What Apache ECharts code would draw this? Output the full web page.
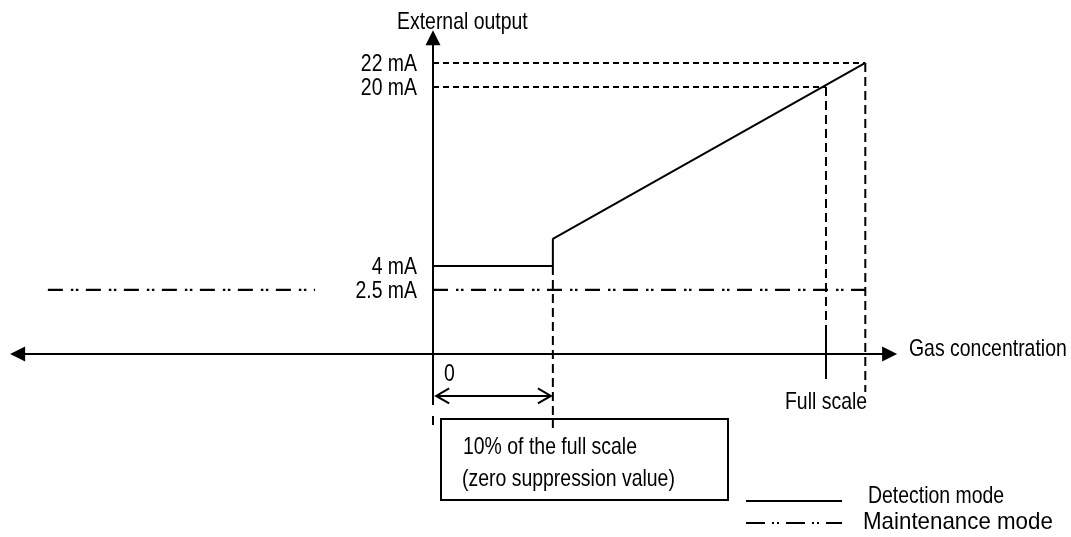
<!DOCTYPE html>
<html><head><meta charset="utf-8">
<script src="https://cdn.jsdelivr.net/npm/echarts@6/dist/echarts.min.js"></script>
<style>html,body{margin:0;padding:0;background:#fff}#c{width:1071px;height:537px}</style>
</head><body><div id="c"></div>
<script>
// Schematic diagram units (not to scale): x — full scale = 100, y — 20 mA level = 100
const levelLabels = ['22 mA', '20 mA', '4 mA', '2.5 mA'];
const levelValues = [109, 100, 33, 24];
const detectionX = [0, 30.5, 30.5, 110];
const detectionY = [33, 33, 43.1, 109];
const maintenanceLeftX = [-98, -30];
const maintenanceRightX = [0, 110];
const maintenanceY = 24;
const xAxisSpan = [-107.6, 118.1];
const yAxisSpan = [-19.1, 121.3];
const guidesH = [[0, 110, 109], [0, 100, 100]];                 // x1, x2, y
const guidesV = [[110, 109, -14.2], [100, 100, 10.9], [30.5, 33, -27.7], [0, -23.2, -27.3]]; // x, y1, y2
const fullScaleTick = [100, 10.9, -9.4];
const suppressionSpan = [0, 30.5, -15.7];  // x1, x2, y

// ---- layout / style ----
const W = 1071, H = 537, ORIGIN = [433, 354], KX = 3.93, KY = 2.67;
const FONT = '"Liberation Sans",Arial,sans-serif';
const FS = 24, SX = 0.81;
const BLACK = '#000';
const DASH_H = [6, 4], DASH_V = [9, 5];
const DASH_DOT = [15, 8, 2.5, 2.5, 2.5, 7.5];

const chart = echarts.init(document.getElementById('c'), null, {renderer: 'canvas'});

function line(pts, style, z) {
  return {type: 'line', data: pts, symbol: 'none', silent: true, animation: false, z: z || 2,
          lineStyle: Object.assign({color: BLACK, width: 2}, style)};
}
const zip = (xs, ys) => xs.map((x, i) => [x, ys[i]]);

const series = [];
series.push(line(zip(detectionX, detectionY), {width: 2}, 5));
series.push(line([[maintenanceLeftX[0], maintenanceY], [maintenanceLeftX[1], maintenanceY]], {width: 2.2, type: DASH_DOT}));
series.push(line([[maintenanceRightX[0], maintenanceY], [maintenanceRightX[1], maintenanceY]], {width: 2.2, type: DASH_DOT}));
guidesH.forEach(g => series.push(line([[g[0], g[2]], [g[1], g[2]]], {width: 2, type: DASH_H})));
guidesV.forEach(g => series.push(line([[g[0], g[1]], [g[0], g[2]]], {width: 2, type: DASH_V})));
series.push(line([[fullScaleTick[0], fullScaleTick[1]], [fullScaleTick[0], fullScaleTick[2]]], {width: 2}));

// axes with arrowheads
function arrowAxis(p1, p2, headsStart, headsEnd, closed) {
  return {
    type: 'custom', silent: true, animation: false, z: 6,
    data: [[p1[0], p1[1], p2[0], p2[1]]],
    renderItem: function (params, api) {
      const a = api.coord([api.value(0), api.value(1)]);
      const b = api.coord([api.value(2), api.value(3)]);
      const dx = b[0] - a[0], dy = b[1] - a[1], L = Math.hypot(dx, dy);
      const ux = dx / L, uy = dy / L, nx = -uy, ny = ux;
      const len = closed ? 15 : 13, hw = 7.5;
      const children = [];
      const inset = closed ? len - 1 : 0;
      const s = headsStart ? [a[0] + ux * inset, a[1] + uy * inset] : a;
      const e = headsEnd ? [b[0] - ux * inset, b[1] - uy * inset] : b;
      children.push({type: 'line', shape: {x1: s[0], y1: s[1], x2: e[0], y2: e[1]}, style: {stroke: BLACK, lineWidth: 2}});
      function head(tip, dirx, diry) {
        const base = [tip[0] - dirx * len, tip[1] - diry * len];
        const pts = [[base[0] + nx * hw, base[1] + ny * hw], tip, [base[0] - nx * hw, base[1] - ny * hw]];
        if (closed) children.push({type: 'polygon', shape: {points: pts}, style: {fill: BLACK}});
        else children.push({type: 'polyline', shape: {points: pts}, style: {stroke: BLACK, lineWidth: 2, fill: null}});
      }
      if (headsStart) head(a, -ux, -uy);
      if (headsEnd) head(b, ux, uy);
      return {type: 'group', children: children};
    }
  };
}
series.push(arrowAxis([xAxisSpan[0], 0], [xAxisSpan[1], 0], true, true, true));
series.push(arrowAxis([0, yAxisSpan[0]], [0, yAxisSpan[1]], false, true, true));
series.push(arrowAxis([suppressionSpan[0] + 0.8, suppressionSpan[2]], [suppressionSpan[1] - 0.5, suppressionSpan[2]], true, true, false));

const option = {
  animation: false,
  backgroundColor: '#fff',
  grid: {left: 0, top: 0, right: 0, bottom: 0},
  xAxis: {type: 'value', show: false, min: -ORIGIN[0] / KX, max: (W - ORIGIN[0]) / KX},
  yAxis: {type: 'value', show: false, min: -(H - ORIGIN[1]) / KY, max: ORIGIN[1] / KY},
  series: series
};
chart.setOption(option);

function txt(t, x, y, align, sx) {
  return {type: 'text', silent: true, z: 10, x: x, y: y, scaleX: sx || SX,
          style: {text: t, x: 0, y: 0, fill: BLACK, font: FS + 'px ' + FONT, align: align || 'left', verticalAlign: 'middle'}};
}
const LABEL_GAP = 16;
const levelTexts = levelLabels.map((t, i) => {
  const p = chart.convertToPixel({gridIndex: 0}, [0, levelValues[i]]);
  return txt(t, p[0] - LABEL_GAP, p[1] + 1.5, 'right');
});

chart.setOption({
  graphic: levelTexts.concat([
    txt('External output', 397, 22),
    txt('Gas concentration', 909, 349),
    txt('0', 444, 374),
    txt('Full scale', 785, 402),
    {type: 'rect', silent: true, shape: {x: 441, y: 419, width: 287, height: 81},
     style: {fill: '#fff', stroke: BLACK, lineWidth: 2}},
    txt('10% of the full scale', 463, 447),
    txt('(zero suppression value)', 462, 479),
    {type: 'line', silent: true, shape: {x1: 746, y1: 501, x2: 842, y2: 501}, style: {stroke: BLACK, lineWidth: 2}},
    {type: 'line', silent: true, shape: {x1: 746, y1: 523, x2: 842, y2: 523}, style: {stroke: BLACK, lineWidth: 2, lineDash: [19, 7, 2, 3, 2, 7]}},
    txt('Detection mode', 868, 496),
    txt('Maintenance mode', 863, 522, 'left', 0.93)
  ])
});
</script></body></html>
